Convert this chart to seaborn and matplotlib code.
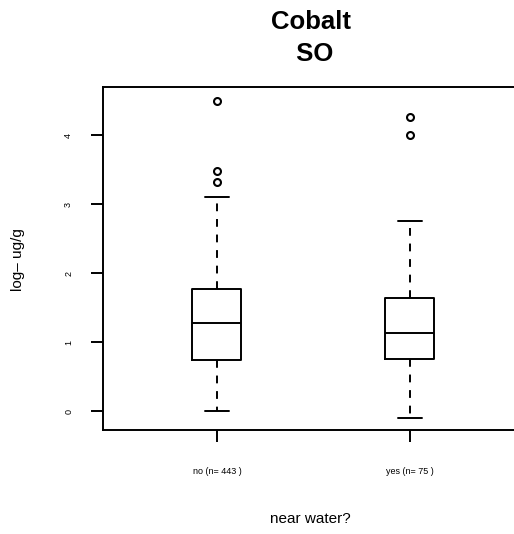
import matplotlib
matplotlib.use("Agg")
import matplotlib.pyplot as plt
import seaborn as sns

# Summary values (log ug/g)
groups = ["no", "yes"]
counts = [443, 75]
q1 = [0.74, 0.76]
medians = [1.28, 1.13]
q3 = [1.77, 1.64]
whisker_low = [0.0, -0.10]
whisker_high = [3.11, 2.76]
outliers = [[4.50, 3.49, 3.32], [4.26, 4.00]]
y_ticks = [0, 1, 2, 3, 4]

sns.set_theme(style="ticks")
plt.rcParams["font.family"] = ["Liberation Sans", "DejaVu Sans"]
plt.rcParams["text.color"] = "black"
plt.rcParams["axes.labelcolor"] = "black"
plt.rcParams["xtick.color"] = "black"
plt.rcParams["ytick.color"] = "black"

stats = []
for i, g in enumerate(groups):
    stats.append({
        "label": f"{g} (n= {counts[i]} )",
        "q1": q1[i],
        "med": medians[i],
        "q3": q3[i],
        "whislo": whisker_low[i],
        "whishi": whisker_high[i],
        "fliers": outliers[i],
    })

fig = plt.figure(figsize=(5.14, 5.34), dpi=100)
ax = fig.add_axes([0.2004, 0.1948, 0.81, 0.642])

lw = 1.4
line = dict(color="black", linewidth=lw)
ax.bxp(
    stats,
    positions=[0, 1],
    widths=0.254,
    boxprops=line,
    medianprops=line,
    whiskerprops=dict(color="black", linewidth=lw, linestyle=(0, (4, 4))),
    capprops=line,
    capwidths=0.127,
    flierprops=dict(marker="o", markerfacecolor="none", markeredgecolor="black",
                    markersize=5, markeredgewidth=1.5),
)

ax.set_xlim(-0.59, 1.567)
ax.set_ylim(-0.275, 4.70)
ax.set_yticks(y_ticks)
ax.set_yticklabels([str(t) for t in y_ticks], rotation=90, va="center", fontsize=6.5)
ax.tick_params(axis="y", length=8.5, width=lw, pad=13)
ax.tick_params(axis="x", length=8.5, width=lw, pad=18, labelsize=6.5)

for s in ax.spines.values():
    s.set_linewidth(lw)
    s.set_color("black")

ax.set_title("Cobalt\n SO", fontsize=18.5, fontweight="bold", pad=19, linespacing=1.42,
             color="black")
ax.set_xlabel("near water?", fontsize=11)
ax.set_ylabel("log\u2013 ug/g", fontsize=11)
ax.xaxis.set_label_coords(0.603, 0.028, transform=fig.transFigure)
ax.yaxis.set_label_coords(0.035, 0.514, transform=fig.transFigure)
ax.xaxis.label.set_va("center")
ax.yaxis.label.set_va("center")

plt.savefig("out.png", dpi=100)
